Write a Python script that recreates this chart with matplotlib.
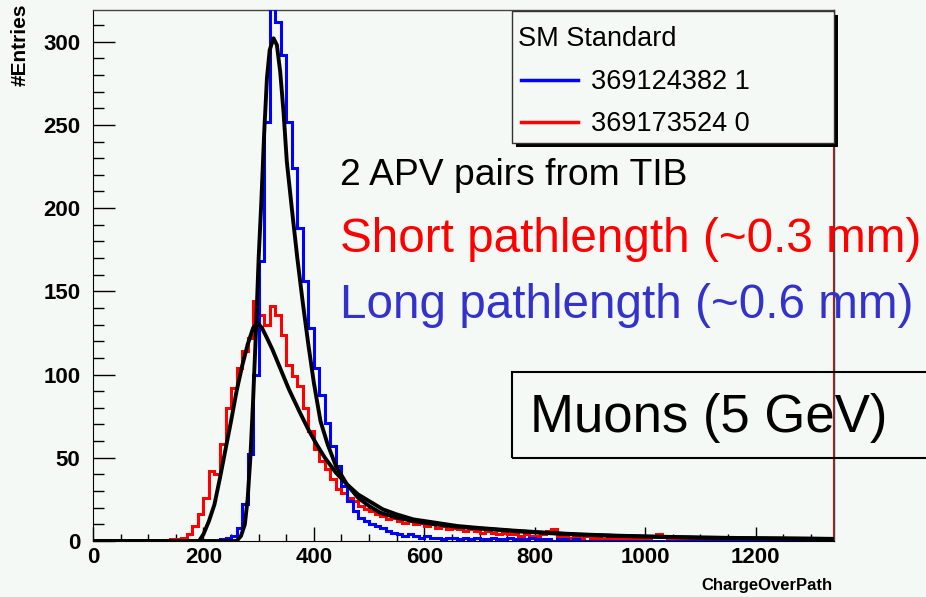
import numpy as np
import matplotlib
matplotlib.use('Agg')
import matplotlib.pyplot as plt
from matplotlib.patches import Rectangle
from matplotlib.lines import Line2D
from matplotlib.ticker import MultipleLocator

plt.rcParams['font.family'] = ['Liberation Sans', 'DejaVu Sans']

W, H = 926, 597
BG = '#f5f9f6'

# axis ranges
x_max = 1342
y_max = 319
bin_width = 10

# red: short pathlength, counts per 10-unit bin starting at 140
red_start = 140
red_counts = [1, 1, 2, 4, 9, 16, 26, 42, 40, 58,
              80, 92, 104, 114, 122, 144, 136, 130, 141, 136,
              124, 106, 99, 93, 80, 66, 55, 48, 43, 37,
              31, 29, 26, 24, 21, 19, 18, 16, 15, 13,
              14, 12, 11, 12, 10, 11, 9, 10, 8, 9,
              7, 8, 7, 6, 7, 6, 5, 6, 5, 4,
              5, 4, 4, 3, 4, 3, 3, 4, 6, 7,
              3, 3, 2, 3, 2, 3, 2, 2, 1, 2,
              2, 1, 2, 1, 2, 1, 2, 3, 4, 3,
              2, 2, 1, 2, 2, 1, 2, 2, 1, 1,
              2, 1, 1, 0, 1, 1, 0, 1, 1, 0, 1]

# blue: long pathlength, counts per 10-unit bin starting at 230
blue_start = 230
blue_counts = [1, 2, 3, 8, 22, 52, 100, 168, 252, 322,
               312, 292, 252, 224, 188, 156, 128, 104, 88, 71,
               57, 45, 33, 24, 18, 14, 12, 10, 9, 8,
               6, 5, 4, 3, 4, 3, 2, 3, 2, 2,
               1, 2, 2, 1, 2, 1, 2, 1, 1, 2,
               1, 1, 2, 1, 1, 1, 2, 1, 1, 1,
               0, 1, 1, 0, 1]

# fitted curves (black)
red_fit_x = [0, 192, 200, 210, 220, 230, 240, 250, 260, 270, 280, 290, 298,
             306, 315, 325, 335, 345, 355, 365, 375, 390, 405, 420, 440, 460,
             480, 500, 525, 550, 580, 620, 660, 700, 760, 820, 880, 950, 1020,
             1100, 1200, 1342]
red_fit_y = [0, 0, 4, 12, 22, 38, 55, 72, 90, 105, 118, 128, 131,
             128, 122, 115, 107, 99, 91, 84, 77, 67, 58, 50, 41, 34,
             28, 24, 19, 16, 13, 11, 9, 7.8, 6.3, 5, 4, 3.2, 2.6,
             2.1, 1.7, 1.3]
blue_fit_x = [0, 260, 268, 275, 280, 285, 290, 295, 300, 305, 310, 315, 320,
              327, 333, 339, 345, 351, 360, 370, 380, 390, 400, 412, 425, 440,
              460, 480, 500, 520, 550, 580, 620, 660, 700, 760, 820, 880, 950,
              1020, 1100, 1200, 1342]
blue_fit_y = [0, 0, 3, 10, 25, 50, 85, 125, 170, 205, 245, 278, 295,
              302, 298, 282, 258, 228, 200, 170, 143, 118, 95, 72, 58, 45,
              34, 26, 21, 17, 14, 12, 10, 8.5, 7.5, 6, 4.8, 3.8, 3,
              2.5, 2, 1.6, 1.2]

legend_title = 'SM Standard'
legend_labels = ['369124382 1', '369173524 0']
legend_colors = ['#0000ff', '#ff0000']


def fx(px):
    return px / W


def fy(py):
    return 1 - py / H


fig = plt.figure(figsize=(W / 100, H / 100), dpi=100, facecolor=BG)
ax = fig.add_axes([fx(93), fy(541), (834 - 93) / W, (541 - 10) / H])
ax.set_facecolor(BG)

edges = np.arange(0, x_max + bin_width, bin_width)
red_full = np.zeros(len(edges) - 1)
red_full[red_start // bin_width:red_start // bin_width + len(red_counts)] = red_counts
blue_full = np.zeros(len(edges) - 1)
blue_full[blue_start // bin_width:blue_start // bin_width + len(blue_counts)] = blue_counts

ax.stairs(red_full, edges, color='#ff0000', lw=2.2, zorder=2)
ax.stairs(blue_full, edges, color='#0000ff', lw=2.2, zorder=3)
ax.plot(red_fit_x, red_fit_y, color='black', lw=2.8, zorder=4)
ax.plot(blue_fit_x, blue_fit_y, color='black', lw=2.8, zorder=4)
ax.axvline(x_max, color='#ff0000', lw=1.5, zorder=2)

ax.set_xlim(0, x_max)
ax.set_ylim(0, y_max)

ax.xaxis.set_major_locator(MultipleLocator(200))
ax.xaxis.set_minor_locator(MultipleLocator(50))
ax.yaxis.set_major_locator(MultipleLocator(50))
ax.yaxis.set_minor_locator(MultipleLocator(10))
ax.tick_params(axis='x', which='major', direction='in', length=10, width=1,
               pad=4, labelsize=16)
ax.tick_params(axis='x', which='minor', direction='in', length=5, width=1)
ax.tick_params(axis='y', which='major', direction='in', length=16, width=1,
               pad=9, labelsize=16)
ax.tick_params(axis='y', which='minor', direction='in', length=8, width=1)
for lab in ax.get_xticklabels() + ax.get_yticklabels():
    lab.set_fontweight('bold')
for side in ['left', 'bottom']:
    ax.spines[side].set_color('black')
for side in ['top', 'right']:
    ax.spines[side].set_color('#444444')
    ax.spines[side].set_linewidth(1)

fig.text(fx(833), fy(590), 'ChargeOverPath', ha='right', va='baseline',
         fontsize=12, fontweight='bold')
fig.text(fx(20), fy(3), '#Entries', ha='center', va='top', rotation=90,
         fontsize=15, fontweight='bold')

# legend box drawn by hand to match the frame size
fig.add_artist(Rectangle((fx(516), fy(147)), (834 - 512) / W, (143 - 11) / H,
                         transform=fig.transFigure, facecolor='black',
                         edgecolor='none', zorder=5))
fig.add_artist(Rectangle((fx(512), fy(143)), (834 - 512) / W, (143 - 11) / H,
                         transform=fig.transFigure, facecolor=BG,
                         edgecolor='#333333', lw=1, zorder=6))
fig.text(fx(518), fy(46), legend_title, ha='left', va='baseline',
         fontsize=19.5, zorder=7)
for i, (lab, col) in enumerate(zip(legend_labels, legend_colors)):
    y = 80 + i * 42
    fig.add_artist(Line2D([fx(521), fx(578)], [fy(y), fy(y)], color=col,
                          lw=2.5, transform=fig.transFigure, zorder=7))
    fig.text(fx(591), fy(y + 9), lab, ha='left', va='baseline',
             fontsize=19.5, zorder=7)

fig.text(fx(340), fy(185), '2 APV pairs from TIB', ha='left', va='baseline',
         fontsize=26.8, color='black', zorder=7)
fig.text(fx(340), fy(252), 'Short pathlength (~0.3 mm)', ha='left',
         va='baseline', fontsize=34.3, color='#ff0000', zorder=7)
fig.text(fx(340), fy(318), 'Long pathlength (~0.6 mm)', ha='left',
         va='baseline', fontsize=34.3, color='#3333cc', zorder=7)

fig.add_artist(Rectangle((fx(512), fy(458)), (960 - 512) / W, (458 - 372) / H,
                         transform=fig.transFigure, facecolor='none',
                         edgecolor='black', lw=1.5, zorder=7))
fig.text(fx(530), fy(432), 'Muons (5 GeV)', ha='left', va='baseline',
         fontsize=38, color='black', zorder=7)

fig.savefig('out.png', dpi=100, facecolor=BG)
